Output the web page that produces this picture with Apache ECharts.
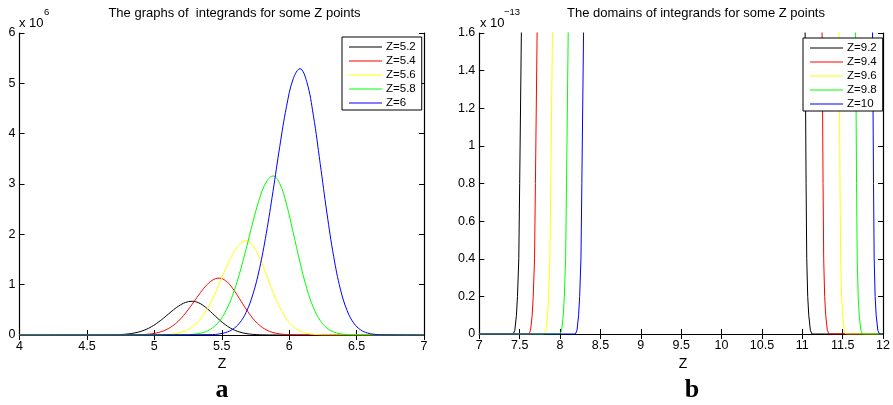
<!DOCTYPE html>
<html><head><meta charset="utf-8">
<script src="https://cdn.jsdelivr.net/npm/echarts@6/dist/echarts.min.js"></script>
<style>html,body{margin:0;padding:0;background:#fff}#c{width:893px;height:405px}</style>
</head><body><div id="c"></div>
<script>
// ---------- Panel a: integrands (values in units of 1e6) ----------
const namesA = ['Z=5.2','Z=5.4','Z=5.6','Z=5.8','Z=6'];
const zA_52 = [4,4.63,4.68,4.73,4.78,4.83,4.88,4.93,4.98,5.03,5.08,5.13,5.18,5.23,5.28,5.33,5.38,5.43,5.48,5.53,5.58,5.63,5.68,5.73,5.78,5.83,5.88,7];
const vA_52 = [0,0.0010,0.0026,0.0063,0.0141,0.0294,0.0567,0.101,0.167,0.255,0.361,0.474,0.574,0.645,0.67,0.638,0.551,0.431,0.307,0.198,0.115,0.0612,0.0294,0.0129,0.0051,0.0018,0.0006,0];
const zA_54 = [4,4.83,4.88,4.93,4.98,5.03,5.08,5.13,5.18,5.23,5.28,5.33,5.38,5.43,5.48,5.53,5.58,5.63,5.68,5.73,5.78,5.83,5.88,5.93,5.98,6.03,6.08,7];
const vA_54 = [0,0.0017,0.0044,0.0106,0.0238,0.0496,0.0956,0.171,0.281,0.431,0.609,0.799,0.968,1.087,1.13,1.076,0.930,0.728,0.518,0.333,0.194,0.103,0.0496,0.0217,0.0086,0.0031,0.0010,0];
const zA_56 = [4,5.03,5.08,5.13,5.18,5.23,5.28,5.33,5.38,5.43,5.48,5.53,5.58,5.63,5.68,5.73,5.78,5.83,5.88,5.93,5.98,6.03,6.08,6.13,6.18,6.23,6.28,7];
const vA_56 = [0,0.0028,0.0073,0.0176,0.0395,0.0821,0.158,0.282,0.466,0.712,1.008,1.322,1.603,1.799,1.87,1.780,1.539,1.204,0.856,0.552,0.322,0.171,0.0821,0.0359,0.0142,0.0050,0.0017,0];
const zA_58 = [4,5.23,5.28,5.33,5.38,5.43,5.48,5.53,5.58,5.63,5.68,5.73,5.78,5.83,5.88,5.93,5.98,6.03,6.08,6.13,6.18,6.23,6.28,6.33,6.38,6.43,6.48,7];
const vA_58 = [0,0.0047,0.0123,0.0297,0.0667,0.139,0.267,0.477,0.787,1.204,1.703,2.234,2.708,3.040,3.16,3.008,2.601,2.035,1.447,0.932,0.544,0.289,0.139,0.0607,0.0240,0.0085,0.0028,0];
const zA_60 = [4,5.43,5.48,5.53,5.58,5.63,5.68,5.73,5.78,5.83,5.88,5.93,5.98,6.03,6.08,6.13,6.18,6.23,6.28,6.33,6.38,6.43,6.48,6.53,6.58,6.63,6.68,7];
const vA_60 = [0,0.0079,0.0206,0.0497,0.112,0.232,0.447,0.799,1.317,2.015,2.851,3.740,4.534,5.089,5.29,5.036,4.354,3.407,2.423,1.561,0.910,0.484,0.232,0.102,0.0402,0.0143,0.0048,0];

// ---------- Panel b: domains (values in units of 1e-13, clipped at 1.6) ----------
const namesB = ['Z=9.2','Z=9.4','Z=9.6','Z=9.8','Z=10'];
const zB_92 = [7,7.42,7.44,7.46,7.473,7.489,7.50,7.521,7.54,11.02,11.035,11.047,11.055,11.067,11.08,11.10,11.12,12];
const vB_92 = [0,0,0.02,0.1,0.2,0.4,0.8,1.6,3,3,1.6,0.8,0.4,0.2,0.1,0.02,0,0];
const zB_94 = [7,7.615,7.635,7.655,7.668,7.684,7.695,7.716,7.735,11.23,11.245,11.257,11.265,11.277,11.29,11.31,11.33,12];
const vB_94 = [0,0,0.02,0.1,0.2,0.4,0.8,1.6,3,3,1.6,0.8,0.4,0.2,0.1,0.02,0,0];
const zB_96 = [7,7.805,7.825,7.845,7.858,7.874,7.885,7.906,7.925,11.44,11.455,11.467,11.475,11.487,11.50,11.52,11.54,12];
const vB_96 = [0,0,0.02,0.1,0.2,0.4,0.8,1.6,3,3,1.6,0.8,0.4,0.2,0.1,0.02,0,0];
const zB_98 = [7,8.00,8.02,8.04,8.053,8.069,8.08,8.101,8.12,11.645,11.66,11.672,11.68,11.692,11.705,11.725,11.745,12];
const vB_98 = [0,0,0.02,0.1,0.2,0.4,0.8,1.6,3,3,1.6,0.8,0.4,0.2,0.1,0.02,0,0];
const zB_10 = [7,8.19,8.21,8.23,8.243,8.259,8.27,8.291,8.31,11.855,11.87,11.882,11.89,11.902,11.915,11.935,11.955,12];
const vB_10 = [0,0,0.02,0.1,0.2,0.4,0.8,1.6,3,3,1.6,0.8,0.4,0.2,0.1,0.02,0,0];

const colors = ['#000000','#ff0000','#ffff00','#00ff00','#0000ff'];
const FONT = 'Liberation Sans, Arial, Helvetica, sans-serif';

function pairs(z, v){ return z.map((x,i)=>[x, v[i]]); }

const seriesA = [[zA_52,vA_52],[zA_54,vA_54],[zA_56,vA_56],[zA_58,vA_58],[zA_60,vA_60]];
const seriesB = [[zB_92,vB_92],[zB_94,vB_94],[zB_96,vB_96],[zB_98,vB_98],[zB_10,vB_10]];

const axLine = {show:true, lineStyle:{color:'#000', width:1.2}};
const axTick = {show:true, inside:true, length:5, lineStyle:{color:'#000', width:1}};
const lab = {color:'#000', fontSize:12.5, fontFamily:FONT};

function xAx(grid, min, max, top){
  return {type:'value', gridIndex:grid, min:min, max:max, interval:0.5, position: top?'top':'bottom',
    axisLine:axLine, axisTick:axTick, splitLine:{show:false},
    axisLabel: top ? {show:false} : Object.assign({margin:5}, lab)};
}
function yAx(grid, min, max, interval, right, fmt){
  return {type:'value', gridIndex:grid, min:min, max:max, interval:interval, position: right?'right':'left',
    axisLine:axLine, axisTick:axTick, splitLine:{show:false},
    axisLabel: right ? {show:false} : Object.assign({margin:4, formatter:fmt}, lab)};
}

const series = [];
seriesA.forEach((s,i)=>series.push({type:'line', name:namesA[i], xAxisIndex:0, yAxisIndex:0,
  data:pairs(s[0],s[1]), smooth:0.4, symbol:'none', lineStyle:{color:colors[i], width:1}, itemStyle:{color:colors[i]}, z:2}));
seriesB.forEach((s,i)=>series.push({type:'line', name:namesB[i], xAxisIndex:2, yAxisIndex:2,
  data:pairs(s[0],s[1]), smooth:false, clip:true, symbol:'none', lineStyle:{color:colors[i], width:1}, itemStyle:{color:colors[i]}, z:2}));

function legend(data, left, top){
  return {data:data, orient:'vertical', left:left, top:top, itemWidth:33, itemHeight:1.2, itemGap:2,
    icon:'rect', backgroundColor:'#fff', borderColor:'#000', borderWidth:1, borderRadius:0,
    padding:[4,6,1,7], textStyle:{color:'#000', fontSize:11.5, fontFamily:FONT, lineHeight:11.8, padding:[0,0,0,-1]},
    selectedMode:false};
}

const option = {
  animation:false,
  backgroundColor:'#fff',
  grid:[{left:19.5, top:33, width:404.5, height:302},
        {left:479.3, top:33, width:405.7, height:301}],
  xAxis:[xAx(0,4,7,false), xAx(0,4,7,true), xAx(1,7,12,false), xAx(1,7,12,true)],
  yAxis:[yAx(0,0,6,1,false), yAx(0,0,6,1,true),
         yAx(1,0,1.6,0.2,false, v=>String(+v.toFixed(1))), yAx(1,0,1.6,0.2,true)],
  legend:[legend(namesA, 342, 37), legend(namesB, 803, 38)],
  series:series,
  graphic:[
    {type:'text', style:{text:'The graphs of  integrands for some Z points', x:234.5, y:13, textAlign:'center', textVerticalAlign:'middle', fontSize:13, fontFamily:FONT, fill:'#000'}},
    {type:'text', style:{text:'The domains of integrands for some Z points', x:696, y:13, textAlign:'center', textVerticalAlign:'middle', fontSize:13, fontFamily:FONT, fill:'#000'}},
    {type:'text', style:{text:'x 10', x:19, y:23, textVerticalAlign:'middle', fontSize:13, fontFamily:FONT, fill:'#000'}},
    {type:'text', style:{text:'6', x:44, y:12, textVerticalAlign:'middle', fontSize:9.5, fontFamily:FONT, fill:'#000'}},
    {type:'text', style:{text:'x 10', x:480, y:23, textVerticalAlign:'middle', fontSize:13, fontFamily:FONT, fill:'#000'}},
    {type:'text', style:{text:'\u221213', x:504, y:12, textVerticalAlign:'middle', fontSize:9.5, fontFamily:FONT, fill:'#000'}},
    {type:'text', style:{text:'Z', x:222, y:364, textAlign:'center', textVerticalAlign:'middle', fontSize:14, fontFamily:FONT, fill:'#000'}},
    {type:'text', style:{text:'Z', x:683, y:364, textAlign:'center', textVerticalAlign:'middle', fontSize:14, fontFamily:FONT, fill:'#000'}},
    {type:'text', style:{text:'a', x:222, y:390, textAlign:'center', textVerticalAlign:'middle', fontSize:26, fontWeight:'bold', fontFamily:'Liberation Serif, Times New Roman, serif', fill:'#000'}},
    {type:'text', style:{text:'b', x:692, y:390, textAlign:'center', textVerticalAlign:'middle', fontSize:26, fontWeight:'bold', fontFamily:'Liberation Serif, Times New Roman, serif', fill:'#000'}}
  ]
};
const chart = echarts.init(document.getElementById('c'), null, {renderer:'canvas'});
chart.setOption(option);
</script>
</body></html>
